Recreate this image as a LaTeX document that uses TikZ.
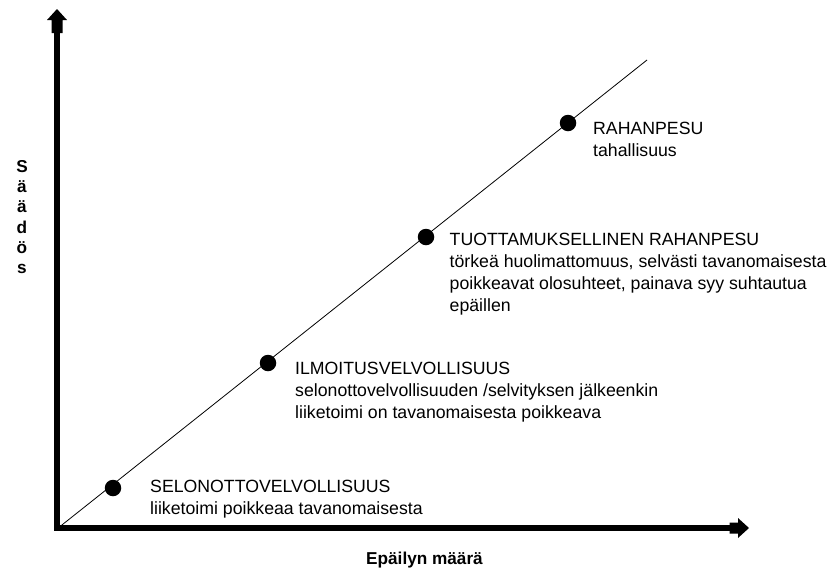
\documentclass[tikz,border=0pt]{standalone}
\usepackage{fontspec}
\setmainfont{Liberation Sans}
\begin{document}
\begin{tikzpicture}[x=1pt,y=-1pt,
  axis/.style={line width=5.5pt, line join=miter},
  headfill/.style={fill=black, draw=none},
  dot/.style={circle, fill=black, minimum size=16.5pt, inner sep=0pt},
  lbl/.style={anchor=north west, inner sep=0pt, align=left, font=\fontsize{17.7}{22}\selectfont},
  axlbl/.style={inner sep=0pt, align=center, font=\fontsize{17.2}{20.2}\selectfont\bfseries}]
\useasboundingbox (0,0) rectangle (830,574);
% axes
\coordinate (ytop) at (57,9);
\coordinate (yneck) at (57,32);
\coordinate (O) at (57,528);
\coordinate (xneck) at (731,528);
\coordinate (xtip) at (749,528);
\draw[axis] (yneck) -- (O) -- (xneck);
\fill[headfill] (ytop) -- ++(-10,11) -- ++(4.6,0) -- ++(0,13) -- ++(11,0) -- ++(0,-13) -- ++(4.4,0) -- cycle;
\fill[headfill] (xtip) -- ++(-11,-10) -- ++(0,4.5) -- ++(-8.5,0) -- ++(0,11) -- ++(8.5,0) -- ++(0,4.5) -- cycle;
% diagonal
\coordinate (dstart) at (60,526.5);
\coordinate (dend) at (647,60);
\draw[line width=0.8pt] (dstart) -- (dend);
% dots
\node[dot] (d1) at (113,488) {};
\node[dot] (d2) at (268,363) {};
\node[dot] (d3) at (426,237) {};
\node[dot] (d4) at (568,123) {};
% labels
\node[lbl] (l1) at (150,479.5) {SELONOTTOVELVOLLISUUS\\liiketoimi poikkeaa tavanomaisesta};
\node[lbl] (l2) at (295,362) {ILMOITUSVELVOLLISUUS\\selonottovelvollisuuden /selvityksen jälkeenkin\\liiketoimi on tavanomaisesta poikkeava};
\node[lbl] (l3) at (449.5,232.5) {TUOTTAMUKSELLINEN RAHANPESU\\törkeä huolimattomuus, selvästi tavanomaisesta\\poikkeavat olosuhteet, painava syy suhtautua\\epäillen};
\node[lbl] (l4) at (593,122) {RAHANPESU\\tahallisuus};
% axis labels
\node[axlbl] (ylab) at (22,217) {S\\ä\\ä\\d\\ö\\s};
\node[axlbl, anchor=base] (xlab) at (424.5,564) {Epäilyn määrä};
\end{tikzpicture}
\end{document}
